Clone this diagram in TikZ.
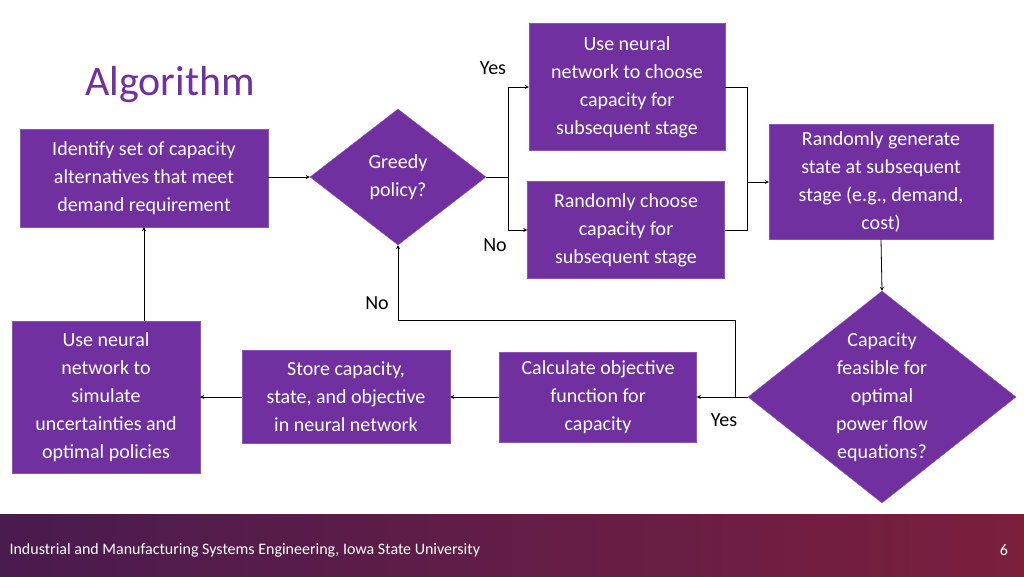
\documentclass[tikz,border=0pt]{standalone}
\usepackage{fontspec}
\setmainfont{Carlito}
\usetikzlibrary{arrows,positioning,calc,shapes}
\definecolor{boxpurple}{HTML}{7030A0}
\definecolor{boxedge}{HTML}{8B55B8}
\definecolor{barleft}{HTML}{4A1B4F}
\definecolor{barright}{HTML}{7B1F3D}
\tikzset{
  stepbox/.style={draw=boxedge,fill=boxpurple,text=white,align=center,inner sep=0pt,
    font=\fontsize{20}{28}\selectfont},
  choice/.style={stepbox,diamond},
  flow/.style={thick,->,>=stealth},
  lbl/.style={font=\fontsize{20}{24}\selectfont}
}
\begin{document}
\begin{tikzpicture}[x=1pt,y=-1pt]
\useasboundingbox (0,0) rectangle (1024,576);

% Title
\node[text=boxpurple,font=\fontsize{42}{48}\selectfont] (title) at (170,85) {Algorithm};

% Steps
\node[stepbox,minimum width=248,minimum height=98] (ident) at (144,178) {Identify set of capacity\\alternatives that meet\\demand requirement};
\node[choice,minimum width=176,minimum height=136,aspect=1.3] (greedy) at (398,177) {Greedy\\policy?};
\node[stepbox,minimum width=196,minimum height=127] (nnchoose) at (627,87) {Use neural\\network to choose\\capacity for\\subsequent stage};
\node[stepbox,minimum width=197,minimum height=97] (randchoose) at (626,230) {Randomly choose\\capacity for\\subsequent stage};
\node[stepbox,minimum width=224,minimum height=115] (randstate) at (881,182) {Randomly generate\\state at subsequent\\stage (e.g., demand,\\cost)};
\node[choice,minimum width=268,minimum height=212,aspect=1.26] (feasible) at (882,397) {Capacity\\feasible for\\optimal\\power flow\\equations?};
\node[stepbox,minimum width=197,minimum height=90] (calc) at (598,397) {Calculate objective\\function for\\capacity};
\node[stepbox,minimum width=208,minimum height=93] (store) at (346,397) {Store capacity,\\state, and objective\\in neural network};
\node[stepbox,minimum width=188,minimum height=152] (simulate) at (106,397) {Use neural\\network to\\simulate\\uncertainties and\\optimal policies};

% Connectors
\coordinate (split) at (508,177);
\coordinate (merge) at (747,182);
\coordinate (loop) at (735,397);
\draw[flow] (ident.east|-greedy) -- (greedy.west);
\draw[thick] (greedy.east) -- (split);
\draw[flow] (split) |- (nnchoose.west);
\draw[flow] (split) |- (randchoose.west);
\draw[thick] (nnchoose.east) -| (merge);
\draw[thick] (randchoose.east) -| (merge);
\draw[flow] (merge) -- (randstate.west|-merge);
\draw[flow] (randstate.south) -- (feasible.north);
\draw[flow] (feasible.west) -- (calc.east);
\draw[flow] (loop) |- (398,320) -- (greedy.south);
\draw[flow] (calc.west) -- (store.east);
\draw[flow] (store.west) -- (simulate.east);
\draw[flow] (simulate.north-|ident) -- (ident.south);

% Labels
\node[lbl] (yes1) at (493,68) {Yes};
\node[lbl] (no1) at (495,245) {No};
\node[lbl] (no2) at (377,303) {No};
\node[lbl] (yes2) at (724,420) {Yes};

% Footer
\shade[left color=barleft,right color=barright] (0,514) rectangle (1024,576);
\node[anchor=west,text=white,font=\fontsize{16}{20}\selectfont] (footer) at (6,550) {Industrial and Manufacturing Systems Engineering, Iowa State University};
\node[text=white,font=\fontsize{16}{20}\selectfont] (page) at (1004,550) {6};
\end{tikzpicture}
\end{document}
